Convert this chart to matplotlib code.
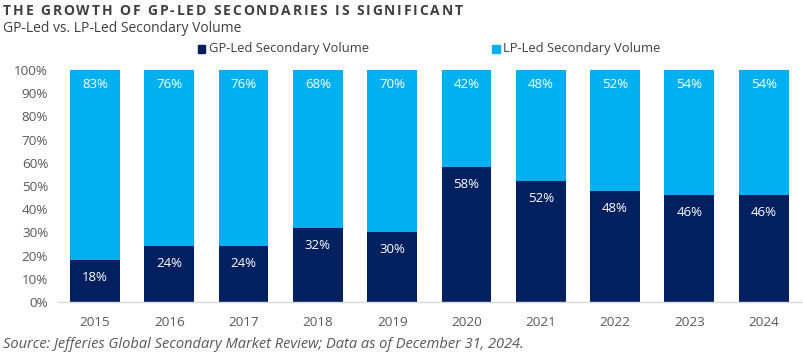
import matplotlib
matplotlib.use("Agg")
import matplotlib.pyplot as plt
from matplotlib.patches import Rectangle
from matplotlib.font_manager import FontProperties
from matplotlib.textpath import TextToPath

years = ["2015", "2016", "2017", "2018", "2019", "2020", "2021", "2022", "2023", "2024"]
gp_led = [18, 24, 24, 32, 30, 58, 52, 48, 46, 46]
lp_led = [83, 76, 76, 68, 70, 42, 48, 52, 54, 54]
yticks = [0, 10, 20, 30, 40, 50, 60, 70, 80, 90, 100]

NAVY = "#002060"
LBLUE = "#00B0F0"
GRAY = "#595959"
FONT = "Open Sans"

plt.rcParams["font.family"] = [FONT, "DejaVu Sans"]

W, H = 804, 356
fig = plt.figure(figsize=(W / 100, H / 100), dpi=100)
ax = fig.add_axes([0.072, 0.152, 0.924, 0.651])

x = list(range(len(years)))
w = 0.67
ax.bar(x, gp_led, width=w, color=NAVY, label="GP-Led Secondary Volume", zorder=2)
ax.bar(x, lp_led, width=w, bottom=gp_led, color=LBLUE, label="LP-Led Secondary Volume", zorder=2)

for i in x:
    ax.annotate(f"{gp_led[i]}%", (i, gp_led[i]), xytext=(0, -12.5), textcoords="offset points",
                ha="center", va="center", color="white", fontsize=9.5)
    ax.annotate(f"{lp_led[i]}%", (i, 100), xytext=(0, -10.5), textcoords="offset points",
                ha="center", va="center", color="white", fontsize=9.5)

ax.set_xlim(-0.5, len(years) - 0.5)
ax.set_ylim(0, 100)
ax.set_yticks(yticks)
ax.set_yticklabels([f"{t}%" for t in yticks])
ax.set_xticks(x)
ax.set_xticklabels(years)
ax.tick_params(axis="both", length=0, colors=GRAY, labelsize=9.7)
ax.tick_params(axis="x", pad=10)
ax.tick_params(axis="y", pad=7)
for s in ["top", "right", "left"]:
    ax.spines[s].set_visible(False)
ax.spines["bottom"].set_color("#D9D9D9")
ax.spines["bottom"].set_linewidth(1)

# letter-spaced title
title = "THE GROWTH OF GP-LED SECONDARIES IS SIGNIFICANT"
tsize = 10
prop = FontProperties(family=FONT, weight="bold", size=tsize)
t2p = TextToPath()
px_per_pt = 100 / 72.0
def width_px(s):
    if not s:
        return 0.0
    wdt, _, _ = t2p.get_text_width_height_descent(s, prop, ismath=False)
    return wdt * px_per_pt
x0, x1 = 3.0, 463.0
natural = width_px(title)
spacing = (x1 - x0 - natural) / (len(title) - 1)
for k, ch in enumerate(title):
    if ch == " ":
        continue
    xp = x0 + width_px(title[:k]) + spacing * k
    fig.text(xp / W, 1 - 11 / H, ch, fontproperties=prop, color="#404040", ha="left", va="center")

fig.text(0.004, 1 - 28 / H, "GP-Led vs. LP-Led Secondary Volume", fontsize=10,
         color="#404040", ha="left", va="center")

# legend
for lx, label, col in [(0.246, "GP-Led Secondary Volume", NAVY), (0.612, "LP-Led Secondary Volume", LBLUE)]:
    fig.patches.append(Rectangle((lx, 1 - 53 / H), 0.0095, 0.0215, transform=fig.transFigure, color=col))
    fig.text(lx + 0.014, 1 - 48.5 / H, label, fontsize=9.4, color="#404040", ha="left", va="center")

fig.text(0.004, 1 - 345 / H, "Source: Jefferies Global Secondary Market Review; Data as of December 31, 2024.",
         fontsize=10.5, style="italic", color=GRAY, ha="left", va="center")

fig.savefig("out.png", dpi=100)
